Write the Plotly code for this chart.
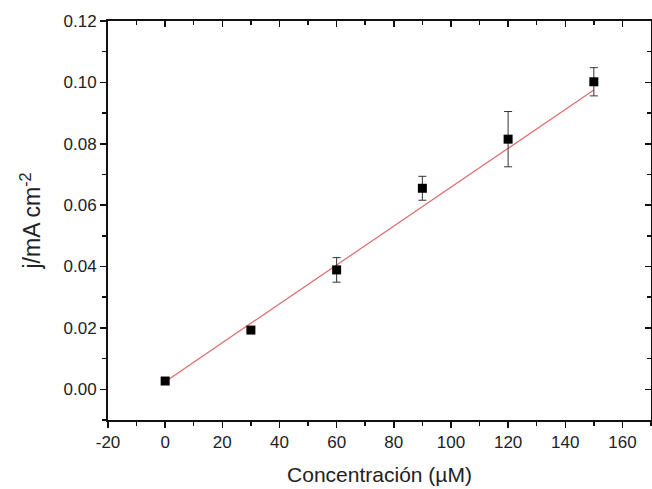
import plotly.graph_objects as go

conc = [0, 30, 60, 90, 120, 150]
j_vals = [0.0027, 0.0193, 0.0389, 0.0655, 0.0815, 0.1002]
j_err = [0.0, 0.0, 0.0040, 0.0039, 0.0090, 0.0046]
fit_x = [0, 150]
fit_y = [0.0025, 0.0975]

x_ticks = [-20, 0, 20, 40, 60, 80, 100, 120, 140, 160]
x_labels = ["-20", "0", "20", "40", "60", "80", "100", "120", "140", "160"]
y_ticks = [0.00, 0.02, 0.04, 0.06, 0.08, 0.10, 0.12]
y_labels = ["0.00", "0.02", "0.04", "0.06", "0.08", "0.10", "0.12"]

font_family = "Liberation Sans, Arial, sans-serif"

fig = go.Figure()
fig.add_trace(go.Scatter(
    x=fit_x, y=fit_y, mode="lines",
    line=dict(color="#e06a6a", width=1.2), showlegend=False, hoverinfo="skip"))
fig.add_trace(go.Scatter(
    x=conc, y=j_vals, mode="markers",
    marker=dict(symbol="square", size=9, color="black"),
    error_y=dict(type="data", array=j_err, visible=True, color="#333333", thickness=1, width=4),
    showlegend=False))
# invisible trace to activate overlay axes (mirrored inside ticks)
fig.add_trace(go.Scatter(x=[None], y=[None], xaxis="x2", yaxis="y2", showlegend=False))

axis_common = dict(showgrid=False, zeroline=False, linecolor="#111", linewidth=2,
                   tickcolor="#111", automargin=False,
                   tickfont=dict(family=font_family, size=17, color="#222"))

fig.update_layout(
    width=652, height=489, autosize=False,
    margin=dict(l=108, r=1, t=21, b=69),
    paper_bgcolor="white", plot_bgcolor="white",
    font=dict(family=font_family, color="#222"),
    xaxis=dict(range=[-20, 170], tickvals=x_ticks, ticktext=x_labels, ticks="outside", ticklen=6, tickwidth=1.5,
               minor=dict(dtick=10, tick0=0, ticks="outside", ticklen=4, tickcolor="#111"),
               showline=True,
               title=dict(text="Concentración (µM)", font=dict(size=21, family=font_family, color="#222"), standoff=16),
               **axis_common),
    yaxis=dict(range=[-0.01, 0.12], tickvals=y_ticks, ticktext=y_labels, ticks="outside", ticklen=6, tickwidth=1.5,
               minor=dict(dtick=0.01, tick0=0, ticks="outside", ticklen=4, tickcolor="#111"),
               showline=True,
               title=dict(text="j/mA cm<sup>-2</sup>", font=dict(size=23, family=font_family, color="#222"), standoff=16),
               **axis_common),
    xaxis2=dict(range=[-20, 170], overlaying="x", side="top", tickvals=x_ticks, ticks="inside",
                ticklen=6, tickwidth=1.5, showticklabels=False, showline=True,
                minor=dict(dtick=10, tick0=0, ticks="inside", ticklen=4, tickcolor="#111"),
                **axis_common),
    yaxis2=dict(range=[-0.01, 0.12], overlaying="y", side="right", tickvals=y_ticks, ticks="inside",
                ticklen=6, tickwidth=1.5, showticklabels=False, showline=True,
                minor=dict(dtick=0.01, tick0=0, ticks="inside", ticklen=4, tickcolor="#111"),
                **axis_common),
)

post = ("document.body.style.margin='0';document.body.style.overflow='hidden';"
        "var gd=document.getElementById('{plot_id}');"
        "Plotly.relayout(gd,{width:652,height:489});")

fig.write_html("out.html", post_script=post, config={"displayModeBar": False, "staticPlot": True})
